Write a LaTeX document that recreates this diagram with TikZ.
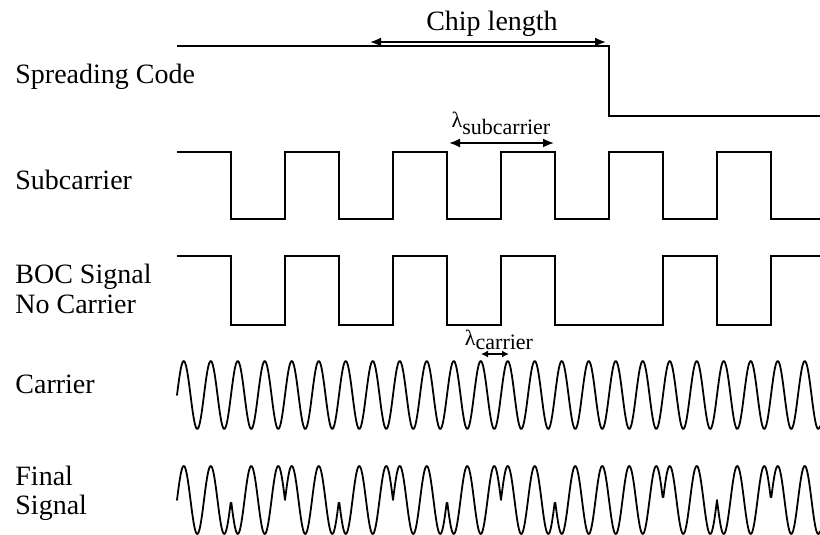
\documentclass[tikz,border=0pt]{standalone}
\usepackage{fontspec}
\setmainfont{Liberation Serif}
\usetikzlibrary{arrows.meta}
\begin{document}
\begin{tikzpicture}[x=0.5pt,y=-0.5pt,
  wave/.style={line width=0.9pt, line join=miter},
  sine/.style={line width=0.9pt, line join=round, line cap=round},
  lbl/.style={anchor=base west, inner sep=0pt, font=\fontsize{14}{17}\selectfont, align=left},
  small/.style={anchor=base, inner sep=0pt, font=\fontsize{11}{13}\selectfont},
  dimarrow/.style={line width=0.9pt, {Latex[length=5.5pt,width=4.5pt]}-{Latex[length=5.5pt,width=4.5pt]}},
  tinyarrow/.style={line width=0.9pt, {Latex[length=3.5pt,width=3.5pt]}-{Latex[length=3.5pt,width=3.5pt]}},
  declare function={
    subc(\t)=1-2*mod(floor(\t/54),2);
    code(\t)=2*(\t<432)-1;
  }]
\useasboundingbox (0,0) rectangle (820,535);

% labels
\node[lbl] (lspread) at (15,84) {Spreading Code};
\node[lbl] (lsub) at (15,190) {Subcarrier};
\node[lbl] (lboc1) at (15,284) {BOC Signal};
\node[lbl] (lboc2) at (15,313) {No Carrier};
\node[lbl] (lcar) at (15,393) {Carrier};
\node[lbl] (lfin1) at (15,485) {Final};
\node[lbl] (lfin2) at (15,514) {Signal};

% spreading code
\draw[wave] (177,46) -- (609,46) -- (609,116) -- (820,116);
\node[lbl, anchor=base] (chip) at (492,31) {Chip length};
\coordinate (c1) at (370,42);
\coordinate (c2) at (606,42);
\draw[dimarrow] (c1) -- (c2);

% subcarrier
\draw[wave] (177,152) -- (231,152) -- (231,219) -- (285,219) -- (285,152)
  -- (339,152) -- (339,219) -- (393,219) -- (393,152) -- (447,152)
  -- (447,219) -- (501,219) -- (501,152) -- (555,152) -- (555,219)
  -- (609,219) -- (609,152) -- (663,152) -- (663,219) -- (717,219)
  -- (717,152) -- (771,152) -- (771,219) -- (820,219);
\node[small] (lamsub) at (501,128) {λ\raisebox{-3pt}{subcarrier}};
\coordinate (s1) at (449,143);
\coordinate (s2) at (554,143);
\draw[dimarrow] (s1) -- (s2);

% BOC signal
\draw[wave] (177,256) -- (231,256) -- (231,325) -- (285,325) -- (285,256)
  -- (339,256) -- (339,325) -- (393,325) -- (393,256) -- (447,256)
  -- (447,325) -- (501,325) -- (501,256) -- (555,256) -- (555,325)
  -- (663,325) -- (663,256) -- (717,256) -- (717,325) -- (771,325)
  -- (771,256) -- (820,256);
\node[small] (lamcar) at (499,345) {λ\raisebox{-2pt}{carrier}};
\coordinate (k1) at (481,354);
\coordinate (k2) at (509,354);
\draw[tinyarrow] (k1) -- (k2);

% carrier (t = x - 177)
\draw[sine] plot[domain=0:643, samples=700, variable=\t]
  ({177+\t}, {395-34*sin(13.33333*\t)});

% final signal
\draw[sine] plot[domain=0:643, samples=900, variable=\t]
  ({177+\t}, {500-34*sin(13.33333*\t)*subc(\t)*code(\t)});
\end{tikzpicture}
\end{document}
